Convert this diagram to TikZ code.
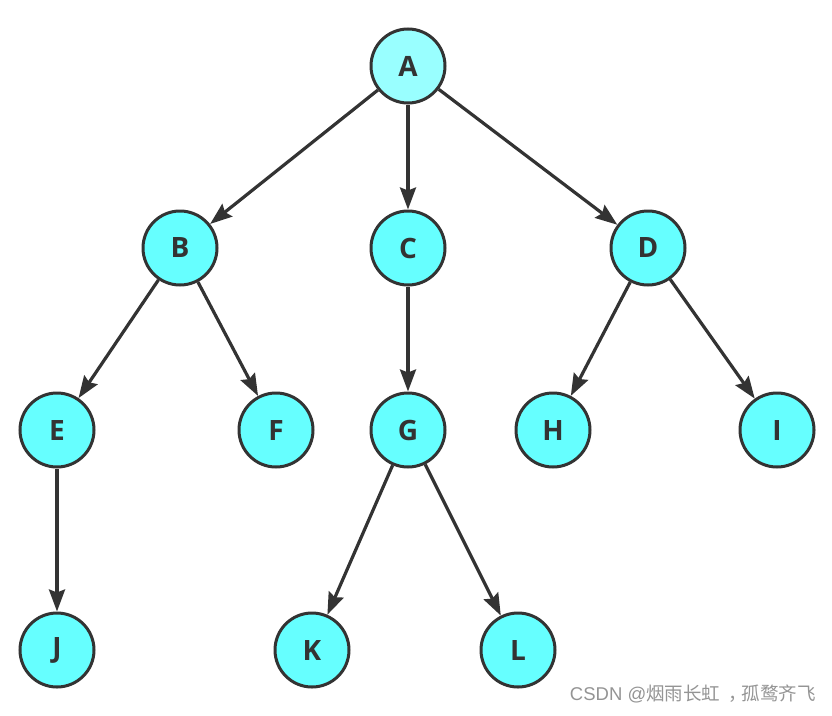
\documentclass[tikz,border=0pt]{standalone}
\usepackage{fontspec}
\setmainfont{Open Sans}
\newfontfamily\cjk{Noto Sans CJK SC}
\newfontfamily\wmlatin{Liberation Sans}
\usetikzlibrary{arrows.meta}
\definecolor{nodefill}{HTML}{66FFFF}
\definecolor{rootfill}{HTML}{99FFFF}
\definecolor{edgecol}{HTML}{333333}
\tikzset{
  tnode/.style={circle, draw=edgecol, line width=3pt, fill=nodefill, minimum size=74pt, inner sep=0pt, font=\fontsize{28}{30}\selectfont\bfseries, text=edgecol},
  tedge/.style={draw=edgecol, line width=3.2pt, -{Stealth[length=22pt, width=16pt, inset=3pt]}, shorten >=0pt}
}
\begin{document}
\begin{tikzpicture}[x=1pt,y=-1pt]
\useasboundingbox (0,0) rectangle (832,715);
\node[tnode, fill=rootfill] (A) at (408,66) {A};
\node[tnode] (B) at (180,248) {B};
\node[tnode] (C) at (408,248) {C};
\node[tnode] (D) at (648,248) {D};
\node[tnode] (E) at (57,430) {E};
\node[tnode] (F) at (276,430) {F};
\node[tnode] (G) at (408,430) {G};
\node[tnode] (H) at (553,430) {H};
\node[tnode] (I) at (777,430) {I};
\node[tnode] (J) at (57,650) {J};
\node[tnode] (K) at (312,650) {K};
\node[tnode] (L) at (518,650) {L};
\draw[tedge] (A) -- (B);
\draw[tedge] (A) -- (C);
\draw[tedge] (A) -- (D);
\draw[tedge] (B) -- (E);
\draw[tedge] (B) -- (F);
\draw[tedge] (C) -- (G);
\draw[tedge] (D) -- (H);
\draw[tedge] (D) -- (I);
\draw[tedge] (E) -- (J);
\draw[tedge] (G) -- (K);
\draw[tedge] (G) -- (L);
\node[font=\cjk\fontsize{18.5}{21}\selectfont, text=black!42, anchor=east, inner sep=0pt] (wm) at (816,694) {{\wmlatin CSDN @}烟雨长虹\hspace{8pt}，\hspace{-5pt}孤鹜齐飞};
\end{tikzpicture}
\end{document}
